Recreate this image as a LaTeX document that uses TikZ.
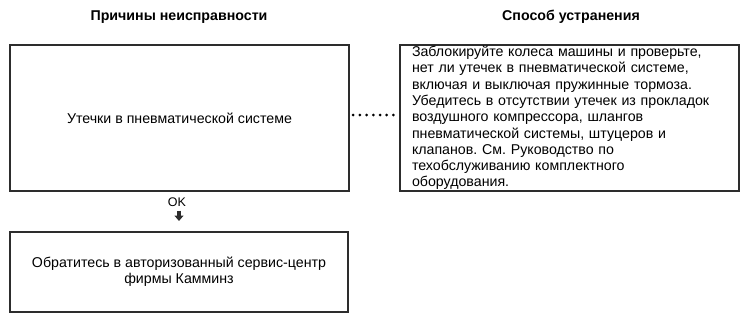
\documentclass[tikz,border=0pt]{standalone}
\usepackage{fontspec}
\setmainfont{Liberation Sans}
\usetikzlibrary{positioning,arrows.meta}
\definecolor{frame}{RGB}{45,45,45}
\frenchspacing

\begin{document}
\begin{tikzpicture}[x=1pt,y=-1pt,font=\fontsize{14.2}{16.3}\selectfont,
  box/.style={draw=frame,line width=1.4pt,inner sep=0pt,align=center},
  head/.style={font=\fontsize{14.2}{16}\selectfont\bfseries}]
  \useasboundingbox (0,0) rectangle (753,335);
  % column headings
  \node[head] (hcause) at (179,17) {Причины неисправности};
  \node[head] (hfix) at (571,17) {Способ устранения};
  % cause box
  \node[box,minimum width=339pt,minimum height=146pt] (cause) at (179.5,118)
       {Утечки в пневматической системе};
  % remedy box
  \node[box,minimum width=339pt,minimum height=146pt,text width=315pt,
        align=left,inner xsep=12pt] (fix) at (569.5,118)
       {Заблокируйте колеса машины и проверьте,\\
        нет ли утечек в пневматической системе,\\
        включая и выключая пружинные тормоза.\\
        Убедитесь в отсутствии утечек из прокладок\\
        воздушного компрессора, шлангов\\
        пневматической системы, штуцеров и\\
        клапанов. См. Руководство по\\
        техобслуживанию комплектного\\
        оборудования.};
  % dotted link cause -> remedy
  \draw[black,line width=3pt,line cap=round,dash pattern=on 0pt off 6.7pt,
        shorten <=3.5pt,shorten >=5pt] ([yshift=3pt]cause.east) -- ([yshift=3pt]fix.west);
  % OK and arrow down
  \node[inner sep=1pt,font=\fontsize{12.5}{14}\selectfont] (ok) at (177,202) {OK};
  \coordinate (okend) at (179,221);
  \draw[frame,line width=3.5pt,-{Triangle[width=9pt,length=5.5pt]},shorten <=3pt]
       (ok.south -| okend) -- (okend);
  % referral box
  \node[box,minimum width=338pt,minimum height=80pt] (service) at (179,272)
       {Обратитесь в авторизованный сервис-центр\\фирмы Камминз};
\end{tikzpicture}
\end{document}
